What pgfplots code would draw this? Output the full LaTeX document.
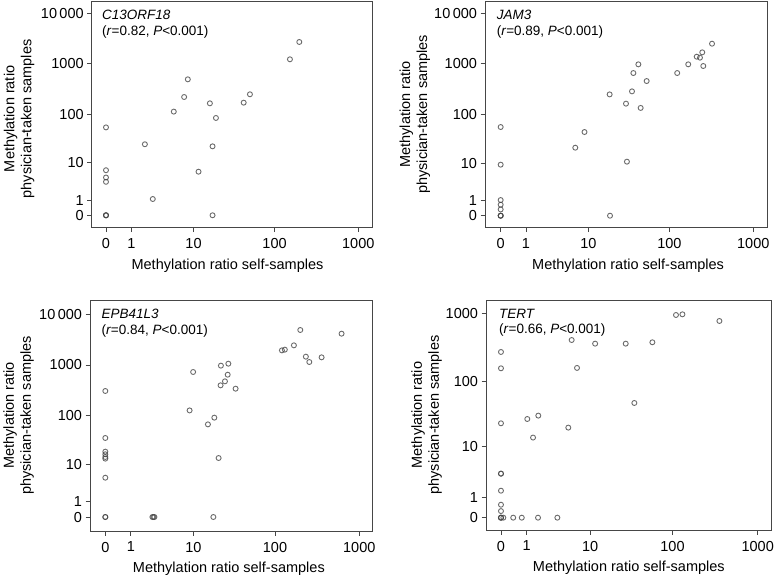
\documentclass[border=0pt]{standalone}
\usepackage{fontspec}
\setmainfont{Liberation Sans}
\usepackage{pgfplots}
\usepackage{pgfplotstable}
\pgfplotsset{compat=1.18}

\definecolor{ptc}{RGB}{70,70,70}
\definecolor{framec}{RGB}{70,70,70}

% columns: self = methylation ratio self-samples, phys = physician-taken samples
\pgfplotstableread{
self phys
0 0
0 0
0 0
0 54
0 6.8
0 4.6
0 3.6
1.9 24.5
2.6 1.1
5.4 112
7.5 219
8.4 492
11.6 6.3
16.2 164
17.5 22.2
17.5 0
19.3 83.6
42.4 169
50.5 248
153 1227
198 2705
}\tabA

\pgfplotstableread{
self phys
0 0
0 0
0 0
0 55.6
0 9.2
0 1.04
0 0.65
0 0.33
6.7 21.1
8.9 44.1
18.9 0
18.7 249
29.8 163
30.6 10.7
35.3 286
36.7 660
42.2 981
45.0 134
53.2 458
124 660
168 981
212 1390
232 1330
247 1694
254 909
323 2512
}\tabB

\pgfplotstableread{
self phys
0 0
0 0
0 4.97
0 13.2
0 14.3
0 16.3
0 18.5
0 35.3
0 306
2.6 0
2.7 0
2.8 0
8.9 126
9.9 727
15.3 66.4
17.9 0
18.4 90.4
20.8 13.6
22.0 396
22.2 970
24.9 475
26.9 643
27.4 1061
33.6 340
121 1945
131 2008
168 2443
200 4908
233 1459
256 1145
358 1416
617 4150
}\tabC

\pgfplotstableread{
self phys
0 0
0 0
0 0
0.065 0
0.39 0
0.75 0
1.71 0
3.56 0
0 0.25
0 0.55
0 1.49
0 3.43
0 3.43
0 23.3
0 155
0 270
1.03 27.1
1.37 14.0
1.73 30.5
5.12 20.0
5.70 405
6.74 157
11.6 358
27.7 358
35.2 47.3
57.8 375
110 945
131 967
356 772
}\tabD

\newcommand{\bigf}{\fontsize{14.5bp}{17bp}\selectfont}
\newcommand{\titf}{\fontsize{13.5bp}{15.5bp}\selectfont}

\pgfplotsset{
  meth/.style={
    scale only axis,
    anchor=south west,
    axis line style={framec, line width=0.9bp},
    every tick/.style={framec, line width=0.9bp},
    tick align=outside,
    major tick length=4.5bp,
    xtick pos=bottom, ytick pos=left,
    minor tick num=0,
    xtick={0,0.30103,1.04139,2.00432,3.00043},
    xticklabels={0,1,10,100,1000},
    ytick={0,0.30103,1.04139,2.00432,3.00043,4.00004},
    yticklabels={0,1,10,100,1000,{10\,000}},
    /pgf/number format/assume math mode=true,
    tick label style={font=\bigf, text=black},
    xticklabel style={yshift=-3bp},
    xlabel={Methylation ratio self-samples},
    ylabel={Methylation ratio\\physician-taken samples},
    xlabel style={font=\bigf, text=black, anchor=base, yshift=-41.5bp},
    ylabel style={font=\bigf, text=black, align=center, anchor=center},
  },
  pts/.style={only marks, mark=o, mark size=2.5bp,
    mark options={draw=ptc, draw opacity=0.8, line width=0.9bp}},
}

\begin{document}
\begin{tikzpicture}
\useasboundingbox (0,0) rectangle (774bp,575bp);

% Panel 1: C13ORF18
\begin{axis}[meth, at={(91.7bp,347.3bp)}, width=280.6bp, height=226.7bp,
  xmin=-0.170, xmax=3.167, ymin=-0.246, ymax=4.244,
  xlabel style={at={(axis description cs:0.484,0)}},
  ylabel style={at={(axis description cs:-0.259,0.48)}}]
\addplot[pts] table[x expr={log10(\thisrow{self}+1)}, y expr={log10(\thisrow{phys}+1)}] {\tabA};
\node[anchor=north west, inner sep=0pt, align=left, font=\titf, yshift=-9bp, xshift=-4bp]
  at (axis cs:0,4.244) {\textit{C13ORF18}\\(\textit{r}=0.82, \textit{P}<0.001)};
\end{axis}

% Panel 2: JAM3
\begin{axis}[meth, at={(485bp,347.3bp)}, width=282.3bp, height=226.7bp,
  xmin=-0.186, xmax=3.167, ymin=-0.237, ymax=4.244,
  xlabel style={at={(axis description cs:0.507,0)}},
  ylabel style={at={(axis description cs:-0.248,0.5)}}]
\addplot[pts] table[x expr={log10(\thisrow{self}+1)}, y expr={log10(\thisrow{phys}+1)}] {\tabB};
\node[anchor=north west, inner sep=0pt, align=left, font=\titf, yshift=-9bp, xshift=-4bp]
  at (axis cs:0,4.244) {\textit{JAM3}\\(\textit{r}=0.89, \textit{P}<0.001)};
\end{axis}

% Panel 3: EPB41L3
\begin{axis}[meth, at={(90bp,44bp)}, width=282.3bp, height=231bp,
  xmin=-0.181, xmax=3.154, ymin=-0.276, ymax=4.283,
  xlabel style={at={(axis description cs:0.492,0)}},
  ylabel style={at={(axis description cs:-0.253,0.5)}}]
\addplot[pts] table[x expr={log10(\thisrow{self}+1)}, y expr={log10(\thisrow{phys}+1)}] {\tabC};
\node[anchor=north west, inner sep=0pt, align=left, font=\titf, yshift=-9bp, xshift=-4bp]
  at (axis cs:0,4.283) {\textit{EPB41L3}\\(\textit{r}=0.84, \textit{P}<0.001)};
\end{axis}

% Panel 4: TERT
\begin{axis}[meth, at={(486bp,45bp)}, width=285.7bp, height=230bp,
  xmin=-0.175, xmax=3.164, ymin=-0.181, ymax=3.196,
  ytick={0,0.30103,1.04139,2.00432,3.00043},
  yticklabels={0,1,10,100,1000},
  xlabel style={at={(axis description cs:0.50,0)}},
  ylabel style={at={(axis description cs:-0.208,0.5)}}]
\addplot[pts] table[x expr={log10(\thisrow{self}+1)}, y expr={log10(\thisrow{phys}+1)}] {\tabD};
\node[anchor=north west, inner sep=0pt, align=left, font=\titf, yshift=-9bp, xshift=-2bp]
  at (axis cs:0,3.196) {\textit{TERT}\\(\textit{r}=0.66, \textit{P}<0.001)};
\end{axis}
\end{tikzpicture}
\end{document}
